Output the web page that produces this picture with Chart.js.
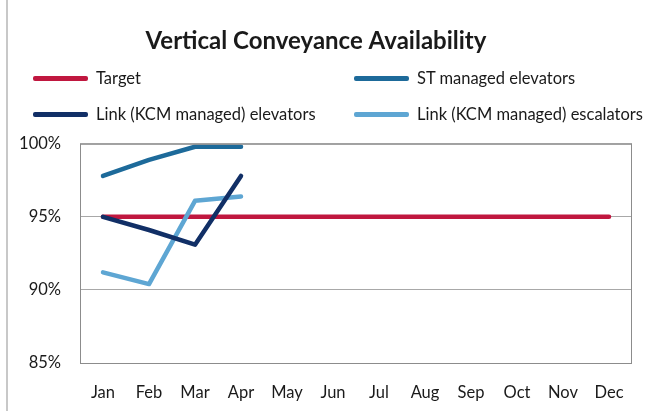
<!DOCTYPE html>
<html>
<head>
<meta charset="utf-8">
<script src="https://cdn.jsdelivr.net/npm/chart.js@4"></script>
<style>
  html, body { margin: 0; padding: 0; background: #ffffff; }
  #wrap { position: relative; width: 653px; height: 411px; }
  #edge { position: absolute; left: 6px; top: 0; width: 2px; height: 411px; background: #c8c8c8; }
  #legend { position: absolute; left: 0; top: 0; width: 653px; height: 130px; pointer-events: none; }
  .lg-item { position: absolute; display: flex; align-items: center; font: 16.5px Lato, sans-serif; color: #1a1a1a; white-space: nowrap; }
  .lg-swatch { width: 55px; height: 5px; border-radius: 2px; margin-right: 8px; }
</style>
</head>
<body>
<div id="wrap">
  <canvas id="availChart" width="653" height="411"></canvas>
  <div id="edge"></div>
  <div id="legend"></div>
</div>
<script>
// Chart data
const months = ['Jan', 'Feb', 'Mar', 'Apr', 'May', 'Jun', 'Jul', 'Aug', 'Sep', 'Oct', 'Nov', 'Dec'];
const targetValues = [95, 95, 95, 95, 95, 95, 95, 95, 95, 95, 95, 95];
const stElevators = [97.8, 98.9, 99.8, 99.8, null, null, null, null, null, null, null, null];
const linkElevators = [95.0, 94.1, 93.1, 97.8, null, null, null, null, null, null, null, null];
const linkEscalators = [91.2, 90.4, 96.1, 96.4, null, null, null, null, null, null, null, null];
const yTicks = [85, 90, 95, 100];

// legend positions (two columns, two rows)
const legendSlots = [
    { left: 33, top: 78 },
    { left: 354, top: 78 },
    { left: 33, top: 114 },
    { left: 354, top: 114 }
];

// draws the box round the plot area
const plotFrame = {
    id: 'plotFrame',
    afterDraw(chart) {
        const a = chart.chartArea;
        const ctx = chart.ctx;
        ctx.save();
        ctx.strokeStyle = '#8c8c8c';
        ctx.lineWidth = 1;
        ctx.strokeRect(a.left + 0.5, a.top + 0.5, a.right - a.left - 1, a.bottom - a.top);
        ctx.restore();
    }
};

const ctx = document.getElementById('availChart').getContext('2d');
const availChart = new Chart(ctx, {
    type: 'line',
    data: {
        labels: months,
        datasets: [
            { label: 'Target', data: targetValues, borderColor: '#c0173f', order: 4 },
            { label: 'ST managed elevators', data: stElevators, borderColor: '#1d6a9a', order: 3 },
            { label: 'Link (KCM managed) elevators', data: linkElevators, borderColor: '#112f66', order: 1 },
            { label: 'Link (KCM managed) escalators', data: linkEscalators, borderColor: '#5ea6d3', order: 2 }
        ].map(ds => Object.assign(ds, {
            borderWidth: 4.5,
            pointRadius: 0,
            tension: 0,
            fill: false,
            spanGaps: false,
            borderCapStyle: 'round',
            borderJoinStyle: 'round'
        }))
    },
    options: {
        responsive: false,
        animation: false,
        layout: { padding: { left: 0, right: 21, top: 0, bottom: 0 } },
        plugins: {
            legend: { display: false },
            tooltip: { enabled: false },
            title: {
                display: true,
                text: 'Vertical Conveyance Availability',
                color: '#1a1a1a',
                font: { family: 'Lato', size: 24, weight: 'bold' },
                padding: { top: 27, bottom: 88 }
            }
        },
        scales: {
            x: {
                offset: true,
                grid: { display: false },
                border: { display: false },
                ticks: {
                    color: '#1a1a1a',
                    font: { family: 'Lato', size: 16.5 },
                    padding: 12,
                    maxRotation: 0,
                    autoSkip: false
                },
                afterFit: s => { s.height = 48; }
            },
            y: {
                min: yTicks[0],
                max: yTicks[yTicks.length - 1],
                afterBuildTicks: s => { s.ticks = yTicks.map(v => ({ value: v })); },
                grid: { color: '#a8a8a8', lineWidth: 1, drawTicks: false },
                border: { display: false },
                ticks: {
                    color: '#1a1a1a',
                    font: { family: 'Lato', size: 16.5 },
                    padding: 19,
                    callback: v => v + '%'
                },
                afterFit: s => { s.width = 80; }
            }
        }
    },
    plugins: [plotFrame]
});

// HTML legend built from the datasets
function renderLegend(chart) {
    const box = document.getElementById('legend');
    box.innerHTML = chart.data.datasets.map((ds, i) => `
        <div class="lg-item" style="left:${legendSlots[i].left}px; top:${legendSlots[i].top - 10}px; height:20px;">
            <span class="lg-swatch" style="background:${ds.borderColor}"></span>${ds.label}
        </div>
    `).join('');
}
renderLegend(availChart);
</script>
</body>
</html>
